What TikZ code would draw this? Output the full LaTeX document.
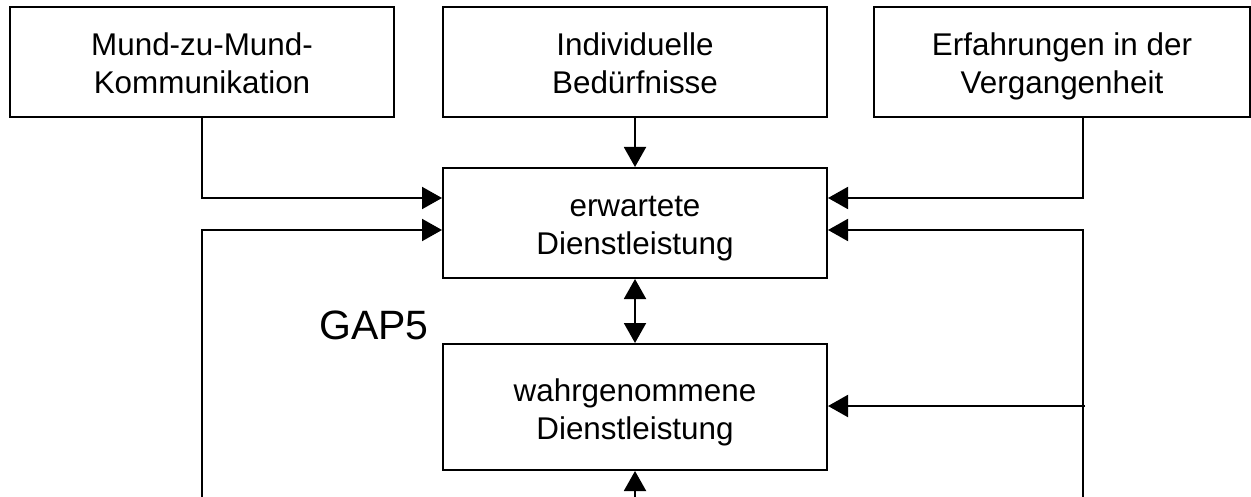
\documentclass[tikz,border=0pt]{standalone}
\usepackage{fontspec}
\setmainfont{Liberation Sans}
\usepackage{tikz}
\usetikzlibrary{arrows.meta,positioning,calc}
\newcommand{\tstrut}{\rule{0pt}{16.5pt}}
\newcommand{\bstrut}{\rule[-3.5pt]{0pt}{3.5pt}}

\begin{document}
\begin{tikzpicture}[
  x=0.5pt,y=-0.5pt,
  every node/.style={font=\fontsize{15.7pt}{19pt}\selectfont,align=center},
  box/.style={draw=black,line width=1pt,fill=white,minimum width=192pt,minimum height=55pt,inner sep=0pt},
  arr/.style={-{Triangle[length=10pt,width=11pt]},line width=1pt},
  both/.style={{Triangle[length=10pt,width=11pt]}-{Triangle[length=10pt,width=11pt]},line width=1pt}
]
\useasboundingbox (0,0) rectangle (1251,497);
\node[box] (erw) at (635,223) {\tstrut erwartete\\Dienstleistung\bstrut};
\node[box,minimum height=63pt,below=32pt of erw] (wahr) {\tstrut wahrgenommene\\Dienstleistung\bstrut};
\node[box,above=24.5pt of erw] (bed) {\tstrut Individuelle\\Bed\"urfnisse\bstrut};
\node[box,left=23.5pt of bed] (mund) {\tstrut Mund-zu-Mund-\\Kommunikation\bstrut};
\node[box,minimum width=188pt,right=22.5pt of bed] (erf) {\tstrut Erfahrungen in der\\Vergangenheit\bstrut};
\node[font=\fontsize{20.5pt}{24pt}\selectfont] (gap) at (374,325) {GAP5};
\coordinate (lfoot) at (202,497);
\coordinate (rfoot) at (1083,497);
\coordinate (mfoot) at (635,497);
\coordinate (rtap) at (1085,406);
\draw[arr] (mund.south) |- ([yshift=12.5pt]erw.west);
\draw[arr] (lfoot) |- ([yshift=-3.5pt]erw.west);
\draw[arr] (bed) -- (erw);
\draw[arr] ([xshift=10.5pt]erf.south) |- ([yshift=12.5pt]erw.east);
\draw[arr] (rfoot) |- ([yshift=-3.5pt]erw.east);
\draw[arr] (rtap) -- (rtap -| wahr.east);
\draw[both] (erw) -- (wahr);
\draw[arr] (mfoot) -- (wahr.south);
\end{tikzpicture}
\end{document}
